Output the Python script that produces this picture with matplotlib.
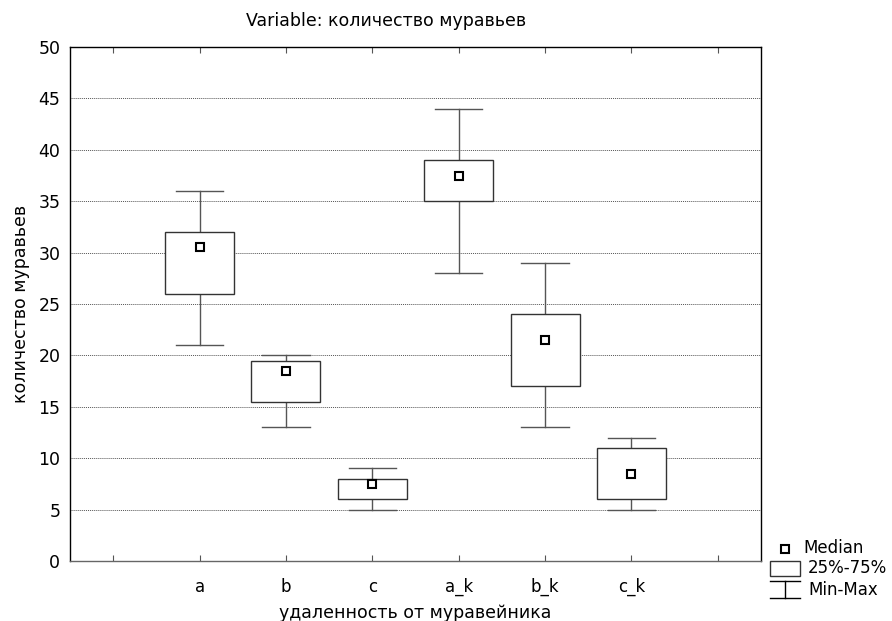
import numpy as np
import matplotlib.pyplot as plt
from matplotlib.lines import Line2D
from matplotlib.patches import Rectangle

plt.rcParams['font.family'] = ['DejaVu Sans']

# данные
categories = ['a', 'b', 'c', 'a_k', 'b_k', 'c_k']
mins = [21, 13, 5, 28, 13, 5]
q1 = [26, 15.5, 6, 35, 17, 6]
q3 = [32, 19.5, 8, 39, 24, 11]
maxs = [36, 20, 9, 44, 29, 12]
medians = [30.5, 18.5, 7.5, 37.5, 21.5, 8.5]
legend_labels = ['Median', '25%-75%', 'Min-Max']

W, H = 892, 621
fig = plt.figure(figsize=(W / 100, H / 100), dpi=100)
ax = fig.add_axes([70 / W, 60 / H, 691 / W, 514 / H])

pos = np.arange(1, len(categories) + 1)
bw = 0.8
cw = 0.55
edge = '#333333'
wcol = '#555555'

for x, lo, a, b, hi, m in zip(pos, mins, q1, q3, maxs, medians):
    ax.plot([x, x], [b, hi], color=wcol, lw=1, zorder=3)
    ax.plot([x, x], [lo, a], color=wcol, lw=1, zorder=3)
    ax.plot([x - cw / 2, x + cw / 2], [hi, hi], color=wcol, lw=1, zorder=3)
    ax.plot([x - cw / 2, x + cw / 2], [lo, lo], color=wcol, lw=1, zorder=3)
    ax.add_patch(Rectangle((x - bw / 2, a), bw, b - a, facecolor='white',
                           edgecolor=edge, lw=1, zorder=4))
ax.plot(pos, medians, 's', ms=6, mfc='white', mec='black', mew=1.5,
        ls='none', zorder=5)

ax.set_xlim(-0.5, 7.5)
ax.set_ylim(0, 50)
ax.set_xticks(np.arange(0, 8))
ax.set_xticklabels([''] + categories + [''], fontsize=12)
ax.set_yticks(np.arange(0, 51, 5))
ax.tick_params(axis='y', labelsize=12.5, direction='in', length=0, pad=7)
ax.tick_params(axis='x', direction='in', length=4, top=True, pad=12,
               color='#555555')
ax.yaxis.grid(True, linestyle=(0, (1, 1)), color='#555555', lw=0.7)
ax.set_axisbelow(True)
for s in ax.spines.values():
    s.set_color('black')
    s.set_linewidth(1)
ax.spines['bottom'].set_color('#666666')

ax.set_ylabel('количество муравьев', fontsize=12.5, labelpad=6)
ax.set_xlabel('удаленность от муравейника', fontsize=12.5, labelpad=6)
fig.text(386 / W, 1 - 21 / H, 'Variable: количество муравьев',
         ha='center', va='center', fontsize=12.5)


# легенда рисуется вручную в пикселях фигуры
def fx(px):
    return px / W


def fy(py):
    return 1 - py / H


fig.add_artist(Line2D([fx(785)], [fy(549)], marker='s', ms=6, mfc='white',
                      mec='black', mew=1.5, transform=fig.transFigure))
fig.add_artist(Rectangle((fx(770), fy(576)), 30 / W, 15 / H,
                         facecolor='white', edgecolor=edge, lw=1,
                         transform=fig.transFigure))
for yy in (581, 598):
    fig.add_artist(Line2D([fx(770), fx(800)], [fy(yy), fy(yy)],
                          color='black', lw=1, transform=fig.transFigure))
fig.add_artist(Line2D([fx(785), fx(785)], [fy(581), fy(598)],
                      color='black', lw=1, transform=fig.transFigure))
for lab, yy, xx in zip(legend_labels, (548, 568, 590), (803, 808, 808)):
    fig.text(fx(xx), fy(yy), lab, ha='left', va='center', fontsize=12)

fig.savefig('out.png', dpi=100)
